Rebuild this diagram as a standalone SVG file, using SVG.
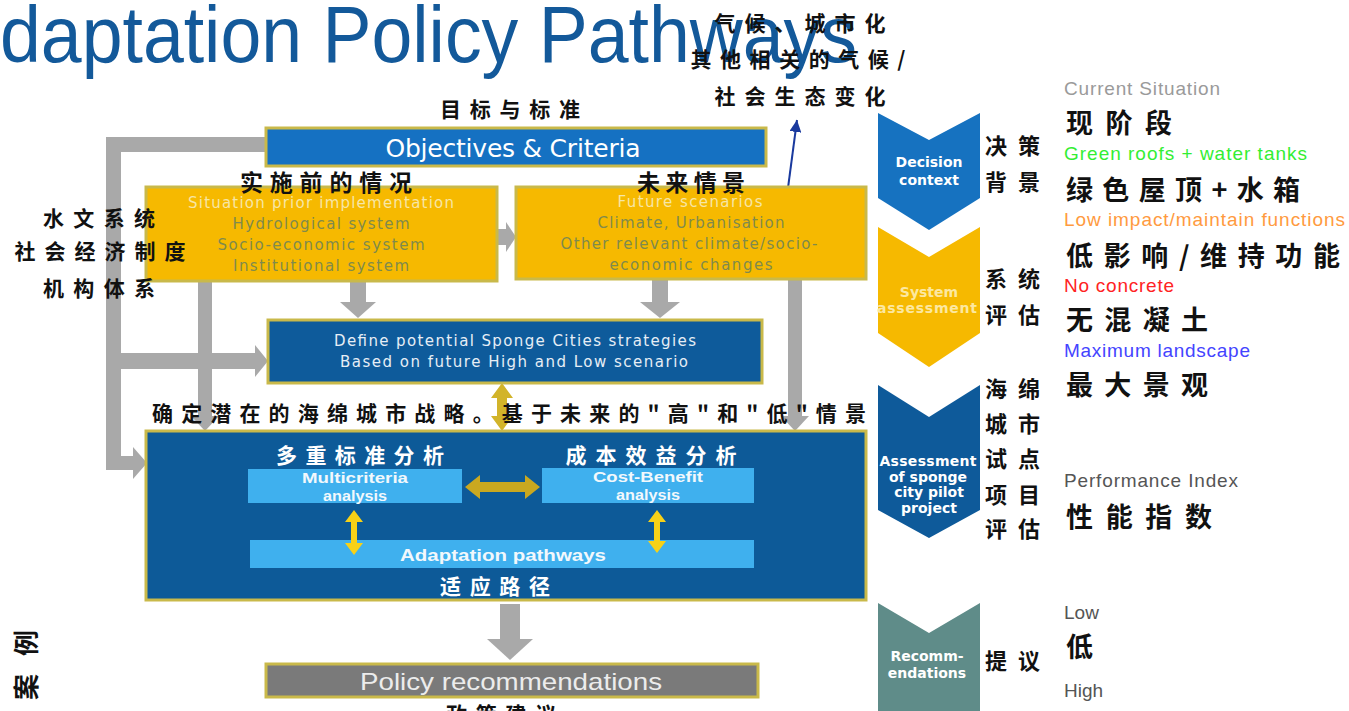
<svg xmlns="http://www.w3.org/2000/svg" width="1349" height="711" viewBox="0 0 1349 711">
<style>
.cn{font-family:"Noto Sans CJK SC","Noto Sans CJK TC",sans-serif;font-weight:700;fill:#111}
.cnw{font-family:"Noto Sans CJK SC",sans-serif;font-weight:700;fill:#fff}
.en{font-family:"DejaVu Sans",sans-serif}
.lab{font-family:"Liberation Sans",Arial,sans-serif;font-size:19px}
.chev{font-family:"DejaVu Sans",sans-serif;font-weight:700;font-size:14px;fill:#fff;text-anchor:middle}
.box{stroke:#c9b94a;stroke-width:3}
.gray{fill:#a9a9a9}
</style>
<defs>
<marker id="ah" markerWidth="12" markerHeight="12" refX="10" refY="5" orient="auto" markerUnits="userSpaceOnUse" viewBox="0 0 10 10">
<path d="M0,0 L10,5 L0,10 Z" fill="#1a3a9e"/>
</marker>
</defs>
<rect width="1349" height="711" fill="#fff"/>

<text x="0" y="62" font-family="Liberation Sans, Arial, sans-serif" font-size="80" fill="#13599a" textLength="857" lengthAdjust="spacingAndGlyphs">daptation Policy Pathways</text>

<g id="connectors">
<polygon class="gray" points="266,137 106,137 106,470 133,470 133,479 147,463 133,447 133,456 121,456 121,152 266,152"/>
<rect class="gray" x="121" y="353" width="135" height="16"/>
<polygon class="gray" points="255,345 268,361 255,377"/>
<rect class="gray" x="198" y="281" width="14" height="137"/>
<polygon class="gray" points="191,416 219,416 205,431"/>
<rect class="gray" x="350" y="281" width="16" height="21"/>
<polygon class="gray" points="340,302 376,302 358,318"/>
<rect class="gray" x="497" y="229" width="10" height="16"/>
<polygon class="gray" points="506,222 516,237 506,252"/>
<rect class="gray" x="652" y="279" width="16" height="23"/>
<polygon class="gray" points="640,302 680,302 660,318"/>
<rect class="gray" x="788" y="279" width="14" height="139"/>
<polygon class="gray" points="781,416 809,416 795,431"/>
<rect class="gray" x="500" y="604" width="20" height="36"/>
<polygon class="gray" points="487,639 533,639 510,660"/>
<polygon fill="#d2b42a" points="502,383 513,398 507,398 507,416 513,416 502,431 491,416 497,416 497,398 491,398"/>
<line x1="786" y1="203" x2="797" y2="120" stroke="#1a3a9e" stroke-width="2" marker-end="url(#ah)"/>
</g>

<g id="objectives">
<rect class="box" x="266" y="128" width="500" height="38" fill="#1571c2"/>
<text x="513" y="157" class="en" font-size="25" fill="#fff" text-anchor="middle" textLength="255">Objectives &amp; Criteria</text>
<text x="510" y="117" class="cn" font-size="21" text-anchor="middle" textLength="140">目标与标准</text>
</g>

<g id="situation">
<rect class="box" x="146" y="187" width="351" height="94" fill="#f6b900" stroke-width="2"/>
<g class="en" font-size="15" text-anchor="middle">
<text x="321" y="208" fill="#f7e6a6" textLength="266">Situation prior implementation</text>
<text x="321" y="229" fill="#7f8a4d" textLength="177">Hydrological system</text>
<text x="321" y="250" fill="#7f8a4d" textLength="207">Socio-economic system</text>
<text x="321" y="271" fill="#7f8a4d" textLength="176">Institutional system</text>
</g>
<text x="326" y="191" class="cn" font-size="23" text-anchor="middle" textLength="172">实施前的情况</text>
</g>

<g id="future">
<rect class="box" x="516" y="187" width="350" height="92" fill="#f6b900" stroke-width="2"/>
<g class="en" font-size="15" text-anchor="middle">
<text x="690" y="207" fill="#f7e6a6" textLength="145">Future scenarios</text>
<text x="691" y="228" fill="#7f8a4d" textLength="187">Climate, Urbanisation</text>
<text x="689" y="249" fill="#7f8a4d" textLength="257">Other relevant climate/socio-</text>
<text x="691" y="270" fill="#7f8a4d" textLength="163">economic changes</text>
</g>
<text x="691" y="191" class="cn" font-size="23" text-anchor="middle" textLength="108">未来情景</text>
</g>

<g id="left-labels">
<text x="99" y="226" class="cn" font-size="21" text-anchor="middle" textLength="112">水文系统</text>
<text x="100" y="259" class="cn" font-size="21" text-anchor="middle" textLength="171">社会经济制度</text>
<text x="99" y="296" class="cn" font-size="21" text-anchor="middle" textLength="112">机构体系</text>
</g>

<g id="define">
<rect class="box" x="268" y="320" width="494" height="63" fill="#0e5b9b" stroke-width="2"/>
<text x="515" y="346" class="en" font-size="15" fill="#e6eef6" text-anchor="middle" textLength="362">Define potential Sponge Cities strategies</text>
<text x="514" y="367" class="en" font-size="15" fill="#e6eef6" text-anchor="middle" textLength="348">Based on future High and Low scenario</text>
<text x="509" y="421" class="cn" font-size="21" text-anchor="middle" textLength="714">确定潜在的海绵城市战略。基于未来的"高"和"低"情景</text>
</g>

<g id="analysis">
<rect class="box" x="146" y="431" width="720" height="169" fill="#0d5a98"/>
<text x="360" y="463" class="cnw" font-size="21" text-anchor="middle" textLength="168">多重标准分析</text>
<text x="651" y="463" class="cnw" font-size="21" text-anchor="middle" textLength="171">成本效益分析</text>
<rect x="248" y="469" width="214" height="34" fill="#3fb0ee"/>
<rect x="542" y="468" width="212" height="35" fill="#3fb0ee"/>
<g font-family="Liberation Sans, Arial, sans-serif" font-weight="700" font-size="15" fill="#f2f8fc" text-anchor="middle">
<text x="355" y="483" textLength="106" lengthAdjust="spacingAndGlyphs">Multicriteria</text>
<text x="355" y="501" textLength="64" lengthAdjust="spacingAndGlyphs">analysis</text>
<text x="648" y="482" textLength="110" lengthAdjust="spacingAndGlyphs">Cost-Benefit</text>
<text x="648" y="500" textLength="64" lengthAdjust="spacingAndGlyphs">analysis</text>
</g>
<polygon fill="#c9a820" points="465,487 480,475 480,482 525,482 525,475 540,487 525,499 525,492 480,492 480,499"/>
<rect x="250" y="540" width="504" height="28" fill="#3fb0ee"/>
<polygon fill="#f7d117" points="354,510 363,522 357,522 357,543 363,543 354,555 345,543 351,543 351,522 345,522"/>
<polygon fill="#f7d117" points="657,510 666,522 660,522 660,541 666,541 657,553 648,541 654,541 654,522 648,522"/>
<text x="503" y="561" font-family="Liberation Sans, Arial, sans-serif" font-weight="700" font-size="17" fill="#f2f8fc" text-anchor="middle" textLength="206" lengthAdjust="spacingAndGlyphs">Adaptation pathways</text>
<text x="495" y="594" class="cnw" font-size="21" text-anchor="middle" textLength="110">适应路径</text>
</g>

<g id="policy">
<rect class="box" x="266" y="664" width="492" height="33" fill="#7a7a7a"/>
<text x="511" y="690" font-family="Liberation Sans, Arial, sans-serif" font-size="24" fill="#ececec" text-anchor="middle" textLength="302" lengthAdjust="spacingAndGlyphs">Policy recommendations</text>
<text x="501" y="722" class="cn" font-size="21" text-anchor="middle" textLength="110">政策建议</text>
</g>

<g id="top-note">
<text x="800" y="31" class="cn" font-size="21" text-anchor="middle" textLength="171">气候、城市化</text>
<text x="798" y="67" class="cn" font-size="21" text-anchor="middle" textLength="215">其他相关的气候/</text>
<text x="800" y="104" class="cn" font-size="21" text-anchor="middle" textLength="171">社会生态变化</text>
</g>

<g id="chevron-decision">
<polygon points="878,113 929,140 980,113 980,198 929,230 878,198" fill="#1672c0"/>
<text x="929" y="167" class="chev" font-size="15">Decision</text>
<text x="929" y="185" class="chev" font-size="15">context</text>
<text x="985" y="154" class="cn" font-size="22" textLength="55">决策</text>
<text x="985" y="190" class="cn" font-size="22" textLength="55">背景</text>
</g>

<g id="chevron-system">
<polygon points="878,227 929,257 980,227 980,333 929,367 878,333" fill="#f6b900"/>
<text x="929" y="297" class="chev" style="fill:#fce8a0">System</text>
<text x="927" y="313" class="chev" style="fill:#fce8a0" textLength="100">assessment</text>
<text x="985" y="287" class="cn" font-size="22" textLength="55">系统</text>
<text x="985" y="323" class="cn" font-size="22" textLength="55">评估</text>
</g>

<g id="chevron-pilot">
<polygon points="878,385 929,417 980,385 980,510 929,538 878,510" fill="#0e5a9a"/>
<text x="928" y="466" class="chev" textLength="97">Assessment</text>
<text x="928" y="482" class="chev">of sponge</text>
<text x="929" y="497" class="chev">city pilot</text>
<text x="929" y="513" class="chev">project</text>
<text x="985" y="397" class="cn" font-size="22" textLength="55">海绵</text>
<text x="985" y="432" class="cn" font-size="22" textLength="55">城市</text>
<text x="985" y="467" class="cn" font-size="22" textLength="55">试点</text>
<text x="985" y="503" class="cn" font-size="22" textLength="55">项目</text>
<text x="985" y="537" class="cn" font-size="22" textLength="55">评估</text>
</g>

<g id="chevron-recommendations">
<polygon points="878,603 929,633 980,603 980,711 878,711" fill="#5f8c89"/>
<text x="927" y="661" class="chev">Recomm-</text>
<text x="927" y="678" class="chev">endations</text>
<text x="985" y="669" class="cn" font-size="22" textLength="55">提议</text>
</g>

<g id="legend">
<text x="1064" y="95" class="lab" fill="#9a9a9a" textLength="156">Current Situation</text>
<text x="1066" y="133" class="cn" font-size="27" textLength="106">现阶段</text>
<text x="1064" y="160" class="lab" fill="#33ee33" textLength="243">Green roofs + water tanks</text>
<text x="1066" y="200" class="cn" font-size="27" textLength="234">绿色屋顶+水箱</text>
<text x="1064" y="226" class="lab" fill="#ff9a40" textLength="281">Low impact/maintain functions</text>
<text x="1066" y="266" class="cn" font-size="27" textLength="274">低影响/维持功能</text>
<text x="1064" y="292" class="lab" fill="#ff2222" textLength="110">No concrete</text>
<text x="1066" y="330" class="cn" font-size="27" textLength="142">无混凝土</text>
<text x="1064" y="357" class="lab" fill="#4444ff" textLength="186">Maximum landscape</text>
<text x="1066" y="395" class="cn" font-size="27" textLength="142">最大景观</text>
<text x="1064" y="487" class="lab" fill="#555" textLength="174">Performance Index</text>
<text x="1066" y="527" class="cn" font-size="27" textLength="146">性能指数</text>
<text x="1064" y="619" class="lab" fill="#555">Low</text>
<text x="1066" y="657" class="cn" font-size="27">低</text>
<text x="1064" y="697" class="lab" fill="#555">High</text>
</g>

<text transform="translate(36,700) rotate(-90)" class="cn" font-size="26" textLength="70">案例</text>
</svg>
